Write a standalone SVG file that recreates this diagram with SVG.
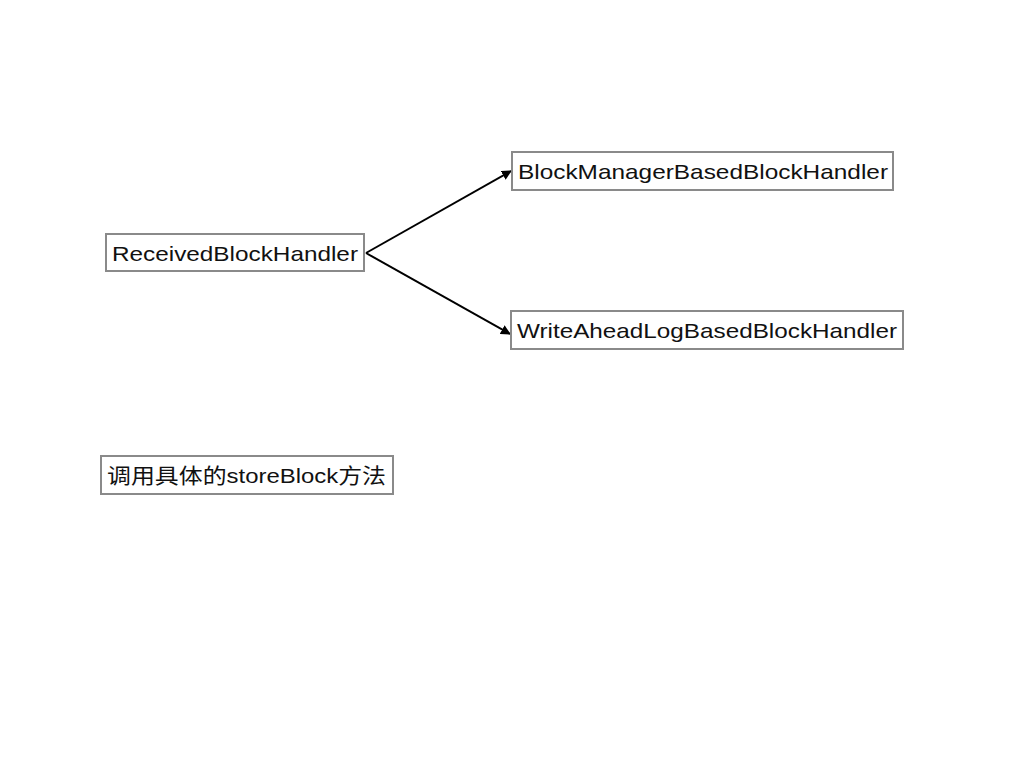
<svg xmlns="http://www.w3.org/2000/svg" width="1024" height="768" viewBox="0 0 1024 768">
<style>
.box{fill:#fff;stroke:#8a8a8a;stroke-width:2}
.t{font-family:"Liberation Sans","Noto Sans CJK SC",sans-serif;font-size:21px;fill:#111}
.c{stroke:#000;stroke-width:2;fill:none}
</style>
<defs>
<marker id="ah" viewBox="0 0 10 10" refX="9" refY="5" markerWidth="5" markerHeight="5" orient="auto" markerUnits="strokeWidth">
<path d="M0,0 L10,5 L0,10 z" fill="#000"/>
</marker>
</defs>
<rect width="1024" height="768" fill="#fff"/>
<g id="connectors">
<line class="c" x1="366" y1="253" x2="511" y2="171" marker-end="url(#ah)"/>
<line class="c" x1="366" y1="253" x2="510" y2="334" marker-end="url(#ah)"/>
</g>
<g id="n1">
<rect class="box" x="106" y="234" width="258" height="37"/>
<text class="t" x="112" y="261" textLength="246" lengthAdjust="spacingAndGlyphs">ReceivedBlockHandler</text>
</g>
<g id="n2">
<rect class="box" x="512" y="152" width="381" height="38"/>
<text class="t" x="518" y="179" textLength="370" lengthAdjust="spacingAndGlyphs">BlockManagerBasedBlockHandler</text>
</g>
<g id="n3">
<rect class="box" x="511" y="311" width="392" height="38"/>
<text class="t" x="517" y="338" textLength="380" lengthAdjust="spacingAndGlyphs">WriteAheadLogBasedBlockHandler</text>
</g>
<g id="n4">
<rect class="box" x="101" y="456" width="292" height="38"/>
<text class="t" x="107" y="483" textLength="279" lengthAdjust="spacingAndGlyphs">调用具体的storeBlock方法</text>
</g>
</svg>
